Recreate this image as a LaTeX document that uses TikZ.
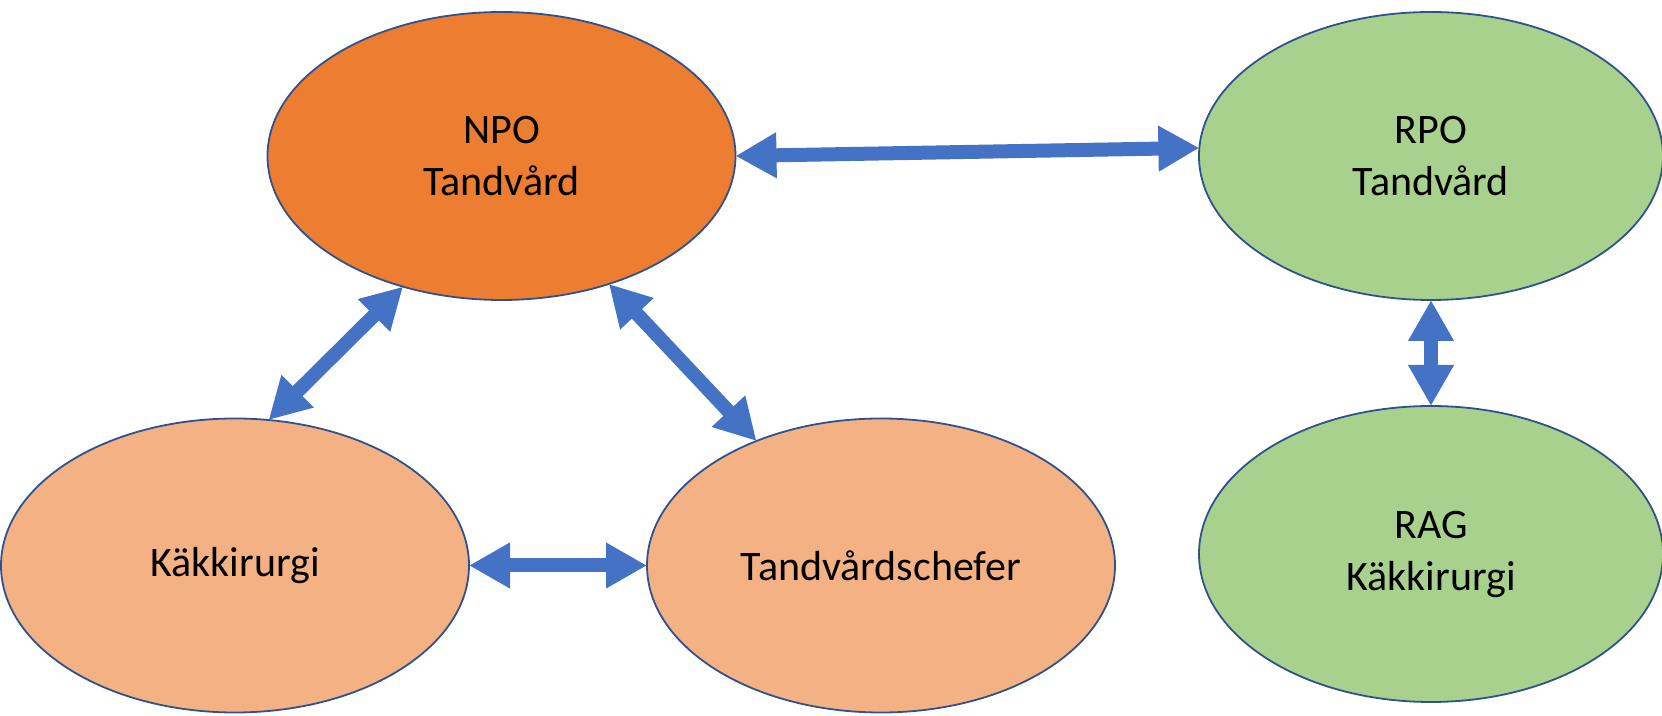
\documentclass[tikz,border=0pt]{standalone}
\usepackage{fontspec}
\setmainfont{Carlito}
\usetikzlibrary{arrows.meta,shapes.geometric}
\definecolor{natorange}{HTML}{ED7D31}
\definecolor{lokorange}{HTML}{F4B183}
\definecolor{reggreen}{HTML}{A9D18E}
\definecolor{rim}{HTML}{2F528F}
\definecolor{arrowblue}{HTML}{4472C4}

\begin{document}
\begin{tikzpicture}[x=0.5pt,y=-0.5pt]
\tikzstyle{org} = [ellipse, draw=rim, line width=0.9pt, outer sep=0pt,
align=center, font=\fontsize{21}{26}\selectfont,
minimum width=234pt, minimum height=144pt]
\tikzstyle{ellipse_nat} = [org, fill=natorange]
\tikzstyle{ellipse_lok} = [org, fill=lokorange, minimum height=147pt]
\tikzstyle{ellipse_reg} = [org, fill=reggreen, minimum width=232pt]
\tikzstyle{line} = [draw=arrowblue, line width=7pt,
{Triangle[length=20.5pt,width=21.5pt]}-{Triangle[length=20.5pt,width=21.5pt]}];

\useasboundingbox (0,0) rectangle (1662,716);

% upper row
\node [ellipse_nat] (npo) at (501.5,156) {NPO\\Tandvård};
\node [ellipse_reg] (rpo) at (1431,156) {RPO\\Tandvård};
% lower row
\node [ellipse_lok] (kak) at (235,565.5) {Käkkirurgi};
\node [ellipse_lok] (chef) at (881,565.5) {Tandvårdschefer};
\node [ellipse_reg, minimum height=148pt] (rag) at (1431,554) {RAG\\Käkkirurgi};

\tikzstyle{every path}=[line]
\path (npo.-0.7) -- (rpo.178.8);
\path (npo.-127.6) -- (kak.77.2);
\path (npo.-50.5) -- (chef.135.8);
\path (kak.-0.9) -- (chef.180.8);
\path (rpo.-90) -- (rag.90);

\end{tikzpicture}
\end{document}
